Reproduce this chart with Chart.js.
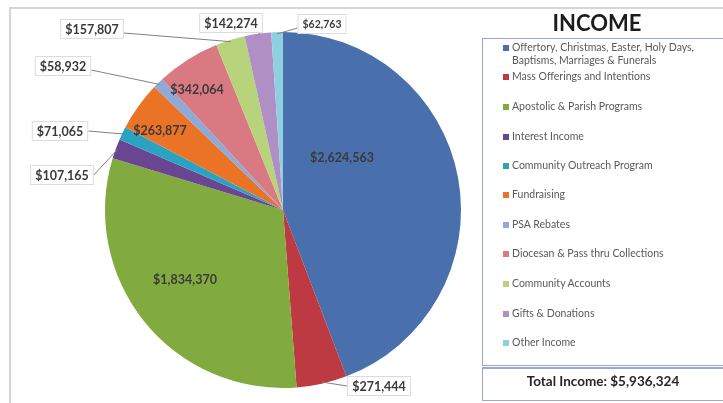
<!DOCTYPE html>
<html>
<head>
<meta charset="utf-8">
<script src="https://cdn.jsdelivr.net/npm/chart.js@4/dist/chart.umd.min.js"></script>
<style>
  body { margin: 0; width: 723px; height: 403px; position: relative; overflow: hidden; background: #fff; font-family: Lato, "Open Sans", sans-serif; }
  #c { position: absolute; left: 0; top: 0; }
  .frame { position: absolute; left: 9px; top: 7px; width: 800px; height: 500px; border-left: 2px solid #d6d6d6; border-top: 2px solid #d6d6d6; }
  .title { position: absolute; left: 482px; top: 11px; width: 230px; text-align: center; font-size: 22px; font-weight: bold; color: #1c1c1c; line-height: 24px; }
  .legbox { position: absolute; left: 482px; top: 38px; width: 300px; height: 326px; border: 1px solid #97a5d8; }
  .totbox { position: absolute; left: 482px; top: 367px; width: 300px; height: 31px; border: 1px solid #97a5d8; border-top-width: 2px; }
  .total { position: absolute; left: 482px; top: 373px; width: 242px; text-align: center; font-size: 13.5px; font-weight: bold; color: #262626; }
  .item { position: absolute; left: 503px; font-size: 10.5px; color: #5a5a5a; line-height: 13px; white-space: nowrap; }
  .item i { position: absolute; left: 0; top: 4px; width: 6px; height: 6px; }
  .item span { display: block; margin-left: 9px; }
</style>
</head>
<body>
<canvas id="c" width="723" height="403"></canvas>
<div class="frame"></div>
<div class="title">INCOME</div>
<div class="legbox"></div>
<div class="totbox"></div>
<div class="total" id="total"></div>
<div id="legend"></div>
<script>
const categories = [
  'Offertory, Christmas, Easter, Holy Days,|Baptisms, Marriages & Funerals',
  'Mass Offerings and Intentions',
  'Apostolic & Parish Programs',
  'Interest Income',
  'Community Outreach Program',
  'Fundraising',
  'PSA Rebates',
  'Diocesan & Pass thru Collections',
  'Community Accounts',
  'Gifts & Donations',
  'Other Income'
];
const amounts = [2624563, 271444, 1834370, 107165, 71065, 263877, 58932, 342064, 157807, 142274, 62763];
const totalIncome = 5936324;

const colors = ['#4a6fad', '#bd3a42', '#82ab3f', '#6a4592', '#2aa3c2', '#ea7325',
  '#8fa9d8', '#d97a82', '#b7d47c', '#b08fc4', '#8fd0e0'];

// label spots relative to pie centre; box = outside label with leader line
const labelSpots = [
  { dx: 59, dy: -53 }, { dx: 96, dy: 176, box: true }, { dx: -98, dy: 69 },
  { dx: -221, dy: -35, box: true }, { dx: -223, dy: -79, box: true }, { dx: -123, dy: -80 },
  { dx: -220, dy: -144, box: true }, { dx: -86, dy: -121 }, { dx: -191, dy: -181, box: true },
  { dx: -52, dy: -187, box: true }, { dx: 39, dy: -186, box: true, small: true }
];
const legendTops = [41, 70, 100, 130, 159, 188, 218, 247, 277, 307, 336];

const money = v => '$' + v.toLocaleString('en-US');

// legend + total
const leg = document.getElementById('legend');
categories.forEach((name, i) => {
  const d = document.createElement('div');
  d.className = 'item';
  d.style.top = legendTops[i] + 'px';
  d.innerHTML = '<i style="background:' + colors[i] + '"></i>' +
    name.split('|').map(s => '<span>' + s + '</span>').join('');
  leg.appendChild(d);
});
document.getElementById('total').textContent = 'Total Income: ' + money(totalIncome);

const sliceLabels = {
  id: 'sliceLabels',
  afterDatasetsDraw(chart) {
    const ctx = chart.ctx;
    const arcs = chart.getDatasetMeta(0).data;
    ctx.save();
    ctx.textAlign = 'center';
    ctx.textBaseline = 'middle';
    arcs.forEach((arc, i) => {
      const spot = labelSpots[i];
      const x = arc.x + spot.dx, y = arc.y + spot.dy;
      const text = money(amounts[i]);
      ctx.font = 'bold ' + (spot.small ? 10.5 : 12.5) + 'px Lato, "Open Sans", sans-serif';
      if (spot.box) {
        const w = ctx.measureText(text).width + 10, h = 20;
        const mid = (arc.startAngle + arc.endAngle) / 2;
        const ex = arc.x + Math.cos(mid) * arc.outerRadius * 0.99;
        const ey = arc.y + Math.sin(mid) * arc.outerRadius * 0.99;
        const sx = ex > x ? x + w / 2 : x - w / 2;
        ctx.strokeStyle = '#808080';
        ctx.lineWidth = 1;
        ctx.beginPath();
        ctx.moveTo(sx, y + (ey > y + 8 ? 4 : 0));
        ctx.lineTo(ex, ey);
        ctx.stroke();
        ctx.fillStyle = '#fff';
        ctx.fillRect(x - w / 2, y - h / 2, w, h);
        ctx.strokeStyle = '#dcdcdc';
        ctx.strokeRect(x - w / 2 + 0.5, y - h / 2 + 0.5, w - 1, h - 1);
      }
      ctx.fillStyle = '#3a3a3a';
      ctx.fillText(text, x, y + 1);
    });
    ctx.restore();
  }
};

new Chart(document.getElementById('c'), {
  type: 'pie',
  data: {
    labels: categories.map(s => s.replace('|', ' ')),
    datasets: [{
      data: amounts,
      backgroundColor: colors,
      borderWidth: 0
    }]
  },
  options: {
    responsive: false,
    animation: false,
    layout: { padding: { left: 105, right: 262, top: 32, bottom: 15 } },
    plugins: {
      legend: { display: false },
      tooltip: { enabled: false }
    }
  },
  plugins: [sliceLabels]
});
</script>
</body>
</html>
